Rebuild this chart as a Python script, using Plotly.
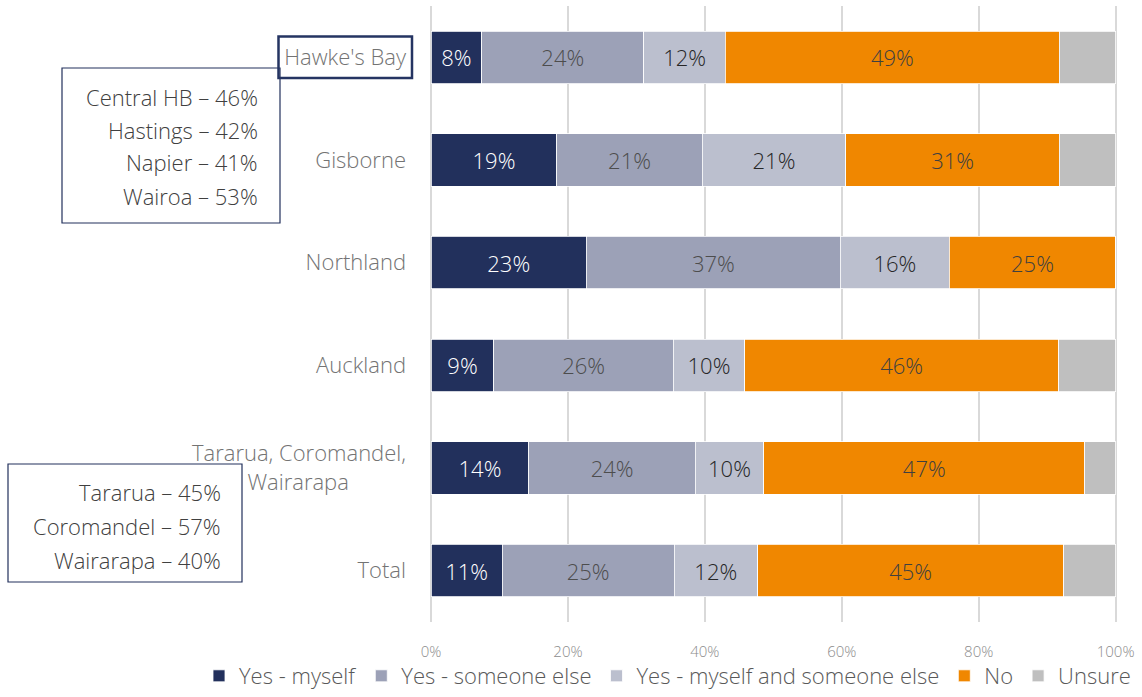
import plotly.graph_objects as go

# ---- data ----
categories = ["Hawke's Bay", "Gisborne", "Northland", "Auckland",
              "Tararua, Coromandel, Wairarapa", "Total"]
tick_labels = ["Hawke's Bay", "Gisborne", "Northland", "Auckland",
               "Tararua, Coromandel,<br>Wairarapa\u00a0\u00a0\u00a0\u00a0\u00a0\u00a0\u00a0\u00a0\u00a0\u00a0", "Total"]
series_names = ["Yes - myself", "Yes - someone else", "Yes - myself and someone else", "No", "Unsure"]

yes_myself = [7.4, 18.4, 22.7, 9.2, 14.3, 10.4]
yes_someone = [23.7, 21.2, 37.1, 26.2, 24.3, 25.1]
yes_both = [11.9, 21.0, 15.9, 10.4, 10.0, 12.2]
no_vals = [48.8, 31.2, 24.3, 45.9, 46.9, 44.7]
unsure = [8.2, 8.2, 0.0, 8.3, 4.5, 7.6]

lbl_myself = ["8%", "19%", "23%", "9%", "14%", "11%"]
lbl_someone = ["24%", "21%", "37%", "26%", "24%", "25%"]
lbl_both = ["12%", "21%", "16%", "10%", "10%", "12%"]
lbl_no = ["49%", "31%", "25%", "46%", "47%", "45%"]
lbl_unsure = ["", "", "", "", "", ""]

x_ticks = [0, 20, 40, 60, 80, 100]
x_tick_labels = ["0%", "20%", "40%", "60%", "80%", "100%"]

hb_box_lines = ["Central HB \u2013 46%", "Hastings \u2013 42%", "Napier \u2013 41%", "Wairoa \u2013 53%"]
tcw_box_lines = ["Tararua \u2013 45%", "Coromandel \u2013 57%", "Wairarapa \u2013 40%"]

# ---- styling ----
colors = ["#22305C", "#9CA1B7", "#BBBFCE", "#F08700", "#BFBFBF"]
text_colors = ["#FFFFFF", "#4D4D4D", "#262626", "#404040", "#404040"]
FONT = "Open Sans"

W, H = 1142, 697
L, R, T, B = 431, 1117, 8, 624


def px(x):
    return (x - L) / (R - L)


def py(y):
    return (B - y) / (B - T)


fig = go.Figure()
all_vals = [yes_myself, yes_someone, yes_both, no_vals, unsure]
all_lbls = [lbl_myself, lbl_someone, lbl_both, lbl_no, lbl_unsure]
for name, vals, lbls, c, tc in zip(series_names, all_vals, all_lbls, colors, text_colors):
    fig.add_trace(go.Bar(
        y=categories, x=vals, name=name, orientation="h",
        marker=dict(color=c, line=dict(color="#FFFFFF", width=0.8)),
        text=lbls, textposition="inside", insidetextanchor="middle",
        textangle=0,
        textfont=dict(family=FONT, size=22, color=tc, weight=300),
        hoverinfo="x+y+name",
    ))

fig.update_layout(
    barmode="stack", bargap=0.49,
    width=W, height=H, autosize=False,
    minreducedheight=B - T, minreducedwidth=R - L,
    margin=dict(l=L, r=W - R, t=T, b=H - B, pad=0),
    paper_bgcolor="white", plot_bgcolor="white",
    font=dict(family=FONT, color="#595959", weight=300),
    showlegend=True,
    legend=dict(orientation="h", x=px(199), xanchor="left", y=py(692), yanchor="middle",
                font=dict(family=FONT, size=22, color="#595959", weight=300),
                itemwidth=30, traceorder="normal", bgcolor="rgba(0,0,0,0)",
                borderwidth=0),
)

fig.update_xaxes(range=[0, 100.2], tickvals=x_ticks, ticktext=x_tick_labels,
                 showgrid=True, gridcolor="#D9D9D9", gridwidth=1.5,
                 zeroline=True, zerolinecolor="#D9D9D9", zerolinewidth=1.5,
                 showline=False, ticks="",
                 tickfont=dict(family=FONT, size=15, color="#8C8C8C", weight=300),
                 ticklabelstandoff=19, fixedrange=True)
fig.update_yaxes(categoryorder="array", categoryarray=categories, autorange="reversed",
                 tickvals=categories, ticktext=tick_labels,
                 showgrid=False, zeroline=False, showline=False, ticks="",
                 tickfont=dict(family=FONT, size=22, color="#737373", weight=300),
                 ticklabelstandoff=24, fixedrange=True)

# boxes
NAVY = "#22305C"
fig.add_shape(type="rect", xref="paper", yref="paper",
              x0=px(62), x1=px(280), y0=py(70), y1=py(225),
              line=dict(color=NAVY, width=1.2), fillcolor="rgba(255,255,255,0)", layer="above")
fig.add_shape(type="rect", xref="paper", yref="paper",
              x0=px(8), x1=px(242), y0=py(466), y1=py(584),
              line=dict(color=NAVY, width=1.2), fillcolor="rgba(255,255,255,0)", layer="above")
fig.add_shape(type="rect", xref="paper", yref="paper",
              x0=px(278.5), x1=px(412), y0=py(38.5), y1=py(80),
              line=dict(color="#253462", width=2.5), fillcolor="rgba(255,255,255,0)", layer="above")

for line_txt, yc in zip(hb_box_lines, [99, 132, 164, 198]):
    fig.add_annotation(xref="paper", yref="paper", x=px(260), y=py(yc),
                       xanchor="right", yanchor="middle", showarrow=False, text=line_txt,
                       font=dict(family=FONT, size=22, color="#404040", weight=300))
for line_txt, yc in zip(tcw_box_lines, [494, 528, 562]):
    fig.add_annotation(xref="paper", yref="paper", x=px(223), y=py(yc),
                       xanchor="right", yanchor="middle", showarrow=False, text=line_txt,
                       font=dict(family=FONT, size=22, color="#404040", weight=300))

fig.write_html("out.html")
